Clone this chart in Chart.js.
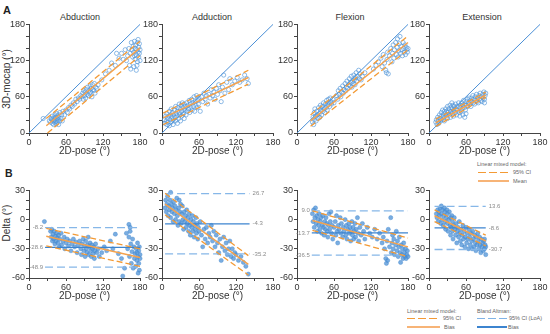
<!DOCTYPE html>
<html><head><meta charset="utf-8">
<script src="https://cdn.jsdelivr.net/npm/chart.js"></script>
<style>
body{margin:0;background:#fff;font-family:"Liberation Sans",Arial,Helvetica,sans-serif;color:#333;}
#wrap{position:relative;width:550px;height:334px;overflow:hidden;background:#fff;}
canvas{position:absolute;}
.t{position:absolute;white-space:nowrap;}
.lg{position:absolute;white-space:nowrap;font-size:5.5px;line-height:7px;color:#666;}
.ln{position:absolute;}
</style></head><body><div id="wrap">
<div class="t" style="left:3px;top:5px;font-size:11px;font-weight:bold;line-height:11px;color:#222;">A</div>
<div class="t" style="left:5px;top:168px;font-size:10.5px;font-weight:bold;line-height:11px;color:#222;">B</div>
<div id="titles"></div>
<div class="t" style="left:-53px;top:72.5px;width:120px;height:12px;line-height:12px;text-align:center;font-size:10px;transform:rotate(-90deg);">3D-mocap (°)</div>
<div class="t" style="left:-53px;top:217px;width:120px;height:12px;line-height:12px;text-align:center;font-size:10px;transform:rotate(-90deg);">Delta (°)</div>

<div class="lg" style="left:477px;top:160.5px;">Linear mixed model:</div>
<div class="ln" style="left:478px;top:171.5px;width:31px;height:1.3px;background:repeating-linear-gradient(90deg,#f39a35 0 8px,transparent 8px 11px);"></div>
<div class="lg" style="left:513px;top:168.5px;">95% CI</div>
<div class="ln" style="left:478px;top:180px;width:31px;height:2px;background:#f7b477;"></div>
<div class="lg" style="left:513px;top:177.5px;">Mean</div>

<div class="lg" style="left:407px;top:307.5px;">Linear mixed model:</div>
<div class="ln" style="left:407px;top:317.5px;width:33px;height:1.3px;background:repeating-linear-gradient(90deg,#f39a35 0 8px,transparent 8px 11px);"></div>
<div class="lg" style="left:443px;top:314.5px;">95% CI</div>
<div class="ln" style="left:407px;top:326px;width:33px;height:2.2px;background:#f7b477;"></div>
<div class="lg" style="left:444px;top:323.5px;">Bias</div>
<div class="lg" style="left:477px;top:307.5px;">Bland Altman:</div>
<div class="ln" style="left:477px;top:317.5px;width:31px;height:1.3px;background:repeating-linear-gradient(90deg,#80b3e6 0 8px,transparent 8px 11px);"></div>
<div class="lg" style="left:509px;top:314.5px;">95% CI (LoA)</div>
<div class="ln" style="left:477px;top:326px;width:30px;height:2px;background:#3c84cf;"></div>
<div class="lg" style="left:508px;top:323.5px;">Bias</div>
</div>
<script>
// ---------------- DATA ----------------
const panelTitles = ['Abduction', 'Adduction', 'Flexion', 'Extension'];
const xTickLabels = [0, 60, 120, 180];
const yTickLabelsA = [0, 60, 120, 180];
const yTickLabelsB = [-60, -30, 0, 30];
const identity = [[0, 0], [180, 180]];

// A: 3D-mocap vs 2D-pose
const abdPts = [[23,24],[33,20],[35,18],[36,24],[37,22],[38,16],[38,28],[39,20],[40,25],[40,14],[41,22],[42,18],[42,30],[43,26],[44,20],[44,15],[45,24],[45,32],[46,18],[46,28],[47,22],[48,26],[48,14],[49,30],[50,20],[50,34],[52,24],[53,30],[54,20],[55,36],[58,30],[60,38],[62,34],[64,42],[66,40],[68,46],[70,44],[72,50],[74,48],[76,56],[78,52],[80,58],[82,56],[84,62],[86,60],[87,66],[88,56],[89,70],[90,62],[91,68],[92,58],[93,72],[94,64],[95,76],[96,62],[97,70],[98,66],[99,78],[100,68],[101,74],[102,60],[103,80],[104,72],[105,70],[106,82],[107,66],[108,76],[110,74],[112,80],[118,88],[124,98],[130,104],[134,116],[140,112],[142,132],[146,124],[150,132],[153,122],[156,138],[158,120],[160,128],[162,140],[163,112],[164,132],[165,106],[166,150],[167,138],[168,126],[169,144],[170,110],[170,134],[171,152],[172,140],[172,122],[173,146],[174,130],[174,104],[175,138],[176,150],[176,118],[177,134],[178,142],[178,126],[179,148],[179,132],[180,138],[180,120],[177,155],[175,112],[171,128]];
const abdMean = [[28,12],[180,141]];
const abdUp = [[28,24],[180,152]];
const abdLo = [[30,0],[180,128]];

const addPts = [[4,22],[5,16],[6,28],[7,20],[8,14],[8,32],[9,24],[10,18],[11,28],[12,36],[12,12],[13,22],[14,30],[15,18],[15,40],[16,26],[17,34],[18,22],[18,14],[19,30],[20,38],[21,26],[22,20],[22,44],[23,32],[24,28],[25,36],[25,16],[26,42],[27,24],[28,34],[28,48],[29,30],[30,40],[30,20],[31,46],[32,36],[32,28],[33,50],[34,42],[35,32],[36,48],[36,24],[37,38],[38,44],[39,30],[40,50],[41,36],[42,46],[43,40],[44,54],[45,34],[46,48],[47,42],[48,56],[49,38],[50,50],[51,44],[52,60],[53,36],[54,52],[55,46],[56,62],[57,42],[58,54],[59,48],[60,58],[62,36],[64,60],[66,52],[68,66],[70,56],[72,62],[74,48],[76,64],[78,58],[80,72],[82,62],[84,68],[86,56],[88,74],[90,64],[92,80],[94,70],[96,52],[98,76],[100,96],[102,66],[105,84],[108,72],[110,90],[114,80],[118,86],[122,92],[126,84],[130,88],[134,96],[138,90],[140,82]];
const addMean = [[2,25],[140,92]];
const addUp = [[2,33],[140,104]];
const addLo = [[2,14],[140,81]];

const flxPts = [[25,18],[26,26],[27,14],[28,34],[28,22],[29,40],[30,28],[31,20],[32,36],[33,30],[34,24],[35,42],[36,32],[37,26],[38,46],[39,38],[40,30],[41,44],[42,36],[43,50],[44,40],[45,34],[46,48],[47,42],[48,54],[49,38],[50,46],[51,56],[52,50],[53,44],[54,58],[55,52],[56,48],[58,56],[60,50],[64,62],[66,56],[67,70],[68,64],[70,74],[71,60],[72,68],[74,78],[75,66],[76,72],[78,82],[79,70],[80,76],[81,86],[82,74],[84,80],[85,90],[86,78],[87,84],[88,94],[89,76],[90,86],[91,82],[92,96],[93,88],[94,80],[95,92],[96,100],[97,86],[98,94],[100,104],[101,90],[102,98],[104,88],[106,94],[110,100],[124,106],[128,112],[132,118],[136,124],[138,110],[140,130],[142,116],[144,104],[145,100],[146,122],[147,134],[148,98],[150,128],[152,140],[154,118],[155,132],[156,146],[157,124],[158,138],[160,150],[161,130],[162,142],[163,156],[164,126],[165,136],[166,148],[167,160],[168,132],[169,144],[170,138],[171,128],[172,150],[173,140],[174,134],[175,146],[176,130],[177,142],[178,138],[179,134],[180,140]];
const flxMean = [[22,20],[180,150]];
const flxUp = [[22,30],[180,161]];
const flxLo = [[22,11],[180,138]];

const extPts = [[11,18],[12,22],[13,14],[14,26],[15,20],[16,16],[17,30],[18,24],[19,20],[20,34],[20,28],[21,22],[22,38],[23,30],[24,26],[25,36],[25,20],[26,32],[27,40],[28,28],[29,36],[30,44],[30,24],[31,34],[32,40],[33,30],[34,46],[35,36],[35,26],[36,42],[37,50],[38,32],[38,40],[39,46],[40,28],[40,38],[41,44],[42,34],[43,48],[44,40],[45,30],[46,44],[47,38],[48,50],[49,34],[50,42],[50,28],[51,46],[52,36],[53,50],[54,40],[55,46],[55,30],[56,54],[57,42],[58,48],[58,26],[59,38],[60,52],[60,32],[61,46],[62,56],[63,44],[64,50],[65,58],[66,48],[67,54],[68,44],[69,58],[70,52],[71,62],[72,50],[73,56],[74,48],[75,60],[76,54],[77,64],[78,52],[79,58],[80,50],[81,62],[82,56],[83,66],[84,54],[85,60],[86,52],[87,64],[88,58],[89,68],[90,56],[91,62],[92,66],[90,50]];
const extMean = [[11,17],[92,63]];
const extUp = [[11,23],[92,68]];
const extLo = [[11,11],[92,59]];

// B: Delta vs 2D-pose
const abdDelta = [[25,-2],[35,-12],[36,-18],[37,-10],[38,-22],[39,-15],[40,-20],[41,-12],[42,-25],[43,-17],[44,-22],[45,-14],[46,-19],[47,-24],[48,-16],[49,-28],[50,-20],[52,-14],[53,-26],[55,-22],[57,-18],[58,-30],[60,-24],[62,-20],[64,-27],[66,-22],[68,-32],[70,-25],[72,-20],[74,-28],[76,-23],[78,-34],[80,-26],[82,-22],[84,-30],[85,-36],[86,-25],[88,-20],[89,-32],[90,-27],[91,-38],[92,-22],[93,-30],[94,-34],[95,-26],[96,-18],[97,-36],[98,-28],[99,-24],[100,-32],[101,-38],[102,-26],[103,-30],[104,-35],[105,-28],[106,-40],[107,-32],[108,-25],[110,-34],[112,-30],[114,-38],[118,-34],[122,-28],[126,-32],[132,-22],[136,-30],[140,-15],[145,-35],[150,-40],[152,-58],[155,-50],[158,-14],[160,-30],[162,-5],[162,-18],[163,-38],[164,-8],[164,-12],[165,-25],[166,-45],[167,-33],[168,-20],[169,-50],[170,-28],[171,-40],[172,-35],[173,-48],[174,-30],[175,-42],[176,-24],[177,-38],[178,-45],[178,-32],[179,-52],[180,-40],[180,-36],[179,-28],[177,-55],[175,-34]];
const abdBias = [[28,-17],[180,-39]];
const abdBiasUp = [[28,-9],[180,-30]];
const abdBiasLo = [[28,-27],[180,-48]];
const abdLoa = [-8.2, -28.6, -48.9];
const abdLoaX = [26, 180];

const addDelta = [[5,12],[6,20],[7,8],[8,16],[9,24],[10,4],[11,14],[12,10],[13,20],[14,28],[14,2],[15,16],[16,8],[17,12],[18,-2],[19,18],[20,6],[21,14],[22,0],[23,10],[24,22],[25,4],[26,-6],[27,12],[28,20],[28,-2],[29,8],[30,16],[31,-4],[32,6],[33,14],[34,0],[35,-10],[36,8],[37,-2],[38,4],[39,-8],[40,10],[41,-4],[42,2],[43,-12],[44,6],[45,-6],[46,-16],[47,0],[48,-8],[49,4],[50,-12],[51,-2],[52,-18],[53,-6],[54,-10],[55,2],[56,-14],[57,-4],[58,-20],[59,-8],[60,-12],[62,-2],[64,-16],[66,-28],[68,-10],[70,-20],[72,-8],[74,-24],[76,-14],[78,-18],[80,-6],[82,-22],[84,-12],[86,-28],[88,-16],[90,-24],[92,-34],[94,-20],[96,-42],[98,-28],[100,-18],[102,-32],[104,-24],[106,-36],[108,-30],[110,-22],[112,-38],[114,-30],[116,-40],[118,-34],[120,-36],[124,-42],[128,-38],[132,-44],[136,-48],[140,-56]];
const addBias = [[5,16],[140,-46]];
const addBiasUp = [[5,27],[140,-37]];
const addBiasLo = [[5,5],[140,-57]];
const addLoa = [26.7, -4.3, -35.2];
const addLoaX = [5, 142];

const flxDelta = [[25,6],[26,-2],[27,10],[28,-8],[29,2],[30,12],[31,-4],[32,4],[33,-12],[34,0],[35,-6],[36,6],[37,-10],[38,-2],[39,2],[40,-14],[41,-6],[42,4],[43,-8],[44,-16],[45,-2],[46,-10],[47,2],[48,-4],[49,-12],[50,-18],[51,-6],[52,6],[53,-10],[54,-2],[55,8],[56,-14],[57,-6],[58,-20],[60,-8],[62,-2],[63,-16],[64,4],[65,-12],[66,-24],[67,-6],[68,-10],[70,2],[71,-14],[72,-4],[74,-18],[75,-8],[76,-12],[78,0],[79,-16],[80,-6],[81,-20],[82,-10],[84,-4],[85,-14],[86,-8],[87,-22],[88,-12],[89,-2],[90,-16],[91,-8],[92,-20],[93,-12],[94,-4],[95,-18],[96,-10],[98,2],[99,-14],[100,-22],[102,-8],[104,-16],[106,-4],[108,-12],[110,-20],[114,-8],[118,-14],[122,-18],[126,-10],[130,-20],[134,-14],[138,-24],[140,-18],[142,-30],[144,-40],[145,-45],[146,-22],[147,-42],[148,-10],[150,-28],[152,2],[153,-34],[154,-24],[155,-16],[156,-30],[157,-20],[158,-36],[160,-26],[161,-12],[162,-32],[163,-22],[164,-38],[165,-28],[166,-18],[167,-34],[168,-44],[169,-26],[170,-36],[171,-30],[172,-40],[173,-24],[174,-34],[175,-38],[176,-30],[177,-40],[178,-36],[179,-32],[180,-38]];
const flxBias = [[25,-1],[180,-28]];
const flxBiasUp = [[25,9],[180,-19]];
const flxBiasLo = [[25,-11],[180,-38]];
const flxLoa = [9.0, -13.7, -36.5];
const flxLoaX = [24, 180];

const extDelta = [[12,6],[13,2],[14,10],[15,-2],[16,8],[17,4],[18,12],[19,-4],[20,6],[20,14],[21,0],[22,10],[23,-6],[24,4],[25,12],[26,-2],[26,8],[27,-10],[28,2],[29,10],[30,-4],[30,6],[31,-12],[32,0],[33,8],[34,-6],[35,2],[35,-16],[36,-8],[37,4],[38,-2],[38,-12],[39,-20],[40,-6],[41,2],[42,-10],[43,-16],[44,-4],[45,-24],[46,-12],[47,-8],[48,-18],[49,-2],[50,-14],[51,-22],[52,-10],[53,-26],[54,-16],[55,-6],[56,-20],[57,-12],[58,-28],[59,-18],[60,-8],[61,-24],[62,-14],[63,-20],[64,-30],[65,-10],[66,-18],[67,-26],[68,-14],[69,-22],[70,-30],[71,-12],[72,-20],[73,-28],[74,-16],[75,-24],[76,-32],[77,-18],[78,-26],[79,-14],[80,-22],[81,-30],[82,-18],[83,-26],[84,-34],[85,-20],[86,-28],[87,-24],[88,-32],[89,-22],[90,-30],[91,-26],[92,-36],[90,-20],[92,-28]];
const extBias = [[9,4],[92,-22]];
const extBiasUp = [[9,10],[92,-16]];
const extBiasLo = [[9,-2],[92,-27]];
const extLoa = [13.6, -8.6, -30.7];
const extLoaX = [9, 92];

// ---------------- RENDER ----------------
Chart.defaults.font.family = '"Liberation Sans", Arial, Helvetica, sans-serif';
Chart.defaults.font.size = 9;
Chart.defaults.color = '#333';

const wrap = document.getElementById('wrap');
const GEOM = {left: [29, 162, 297, 429], w: 111, aTop: 24, aH: 109, bTop: 190, bH: 88};
const COL = {ring: 'rgba(82,150,216,0.72)', fill: 'rgba(78,145,214,0.75)', ident: '#4a8fd6',
  orD: '#f39a35', orS: '#f5a24c', loa: '#86b7e8', bias: '#3c84cf'};

const annotPlugin = {
  id: 'annot',
  afterDatasetsDraw(chart, args, opts) {
    const labels = opts.labels || [];
    if (!labels.length) return;
    const ctx = chart.ctx, xs = chart.scales.x, ys = chart.scales.y;
    ctx.save();
    ctx.font = '6px "Liberation Sans", Arial, sans-serif';
    ctx.fillStyle = '#8a8a8a';
    ctx.textBaseline = 'middle';
    for (const l of labels) {
      const left = l.side === 'left';
      ctx.textAlign = left ? 'right' : 'left';
      ctx.fillText(l.v.toFixed(1), xs.getPixelForValue(l.x) + (left ? -2 : 3), ys.getPixelForValue(l.v));
    }
    ctx.restore();
  }
};

function P(a) { return a.map(p => ({x: p[0], y: p[1]})); }
function line(a, color, w, dash, order) {
  return {data: P(a), showLine: true, borderColor: color, borderWidth: w, borderDash: dash || [],
    pointRadius: 0, pointHoverRadius: 0, fill: false, tension: 0, order: order, clip: false};
}
function hline(xr, v, color, w, dash, order) { return line([[xr[0], v], [xr[1], v]], color, w, dash, order); }
function ring(a) {
  return {data: P(a), pointRadius: 2.1, pointBorderWidth: 0.9, pointBackgroundColor: 'rgba(255,255,255,0)',
    pointBorderColor: COL.ring, showLine: false, order: 5, clip: false};
}
function dots(a) {
  return {data: P(a), pointRadius: 2.1, pointBorderWidth: 0.5, pointBackgroundColor: COL.fill,
    pointBorderColor: 'rgba(66,135,208,0.8)', showLine: false, order: 5, clip: false};
}

function makeChart(px, py, pw, ph, yMin, yMax, yStep, yLabs, datasets, annot) {
  const yw = 29, pt = 6, pr = 12, xh = 25;
  const c = document.createElement('canvas');
  c.width = yw + pw + pr; c.height = pt + ph + xh;
  c.style.left = (px - yw) + 'px'; c.style.top = (py - pt) + 'px';
  wrap.appendChild(c);
  new Chart(c, {
    type: 'scatter',
    data: {datasets: datasets},
    plugins: [annotPlugin],
    options: {
      responsive: false, animation: false, devicePixelRatio: 1,
      layout: {padding: {left: 0, top: pt, right: pr, bottom: 0}},
      plugins: {legend: {display: false}, tooltip: {enabled: false}, annot: {labels: annot || []}},
      scales: {
        x: {type: 'linear', min: 0, max: 180, afterFit: s => { s.height = xh; },
          ticks: {stepSize: 30, autoSkip: false, maxRotation: 0, minRotation: 0, padding: 1, color: '#333', font: {size: 9},
            callback: v => xTickLabels.includes(v) ? String(v) : ''},
          grid: {drawOnChartArea: false, drawTicks: true, tickLength: 3, tickColor: '#444', tickWidth: 1},
          border: {display: true, color: '#444', width: 1},
          title: {display: true, text: '2D-pose (°)', color: '#333', font: {size: 10}, padding: {top: 0, bottom: 1}}},
        y: {type: 'linear', min: yMin, max: yMax, afterFit: s => { s.width = yw; },
          ticks: {stepSize: yStep, autoSkip: false, padding: 1, color: '#333', font: {size: 9},
            callback: v => yLabs.includes(v) ? String(v) : ''},
          grid: {drawOnChartArea: false, drawTicks: true, tickLength: 3, tickColor: '#444', tickWidth: 1},
          border: {display: true, color: '#444', width: 1}}
      }
    }
  });
}

// titles
const titleCx = [80, 212, 350, 482];
const tDiv = document.getElementById('titles');
panelTitles.forEach((t, i) => {
  const d = document.createElement('div');
  d.className = 't';
  d.style.cssText = `left:${titleCx[i] - 50}px;top:11.5px;width:100px;text-align:center;font-size:9px;line-height:10px;color:#333;`;
  d.textContent = t;
  tDiv.appendChild(d);
});

const A = [
  [abdPts, abdMean, abdUp, abdLo],
  [addPts, addMean, addUp, addLo],
  [flxPts, flxMean, flxUp, flxLo],
  [extPts, extMean, extUp, extLo]
];
A.forEach((p, i) => {
  const ds = [
    line(p[1], COL.orS, 1.5, [], 1),
    line(p[2], COL.orD, 1.3, [6, 3], 1),
    line(p[3], COL.orD, 1.3, [6, 3], 1),
    ring(p[0]),
    line(identity, COL.ident, 1, [], 8)
  ];
  makeChart(GEOM.left[i], GEOM.aTop, GEOM.w, GEOM.aH, 0, 180, 20, yTickLabelsA, ds);
});

const B = [
  [abdDelta, abdBias, abdBiasUp, abdBiasLo, abdLoa, abdLoaX, 'left'],
  [addDelta, addBias, addBiasUp, addBiasLo, addLoa, addLoaX, 'right'],
  [flxDelta, flxBias, flxBiasUp, flxBiasLo, flxLoa, flxLoaX, 'left'],
  [extDelta, extBias, extBiasUp, extBiasLo, extLoa, extLoaX, 'right']
];
B.forEach((p, i) => {
  const loa = p[4], lx = p[5], side = p[6];
  const ds = [
    line(p[1], COL.orS, 1.5, [], 1),
    line(p[2], COL.orD, 1.3, [6, 3], 1),
    line(p[3], COL.orD, 1.3, [6, 3], 1),
    hline(lx, loa[0], COL.loa, 1.3, [8, 4], 3),
    hline(lx, loa[1], COL.bias, 1.3, [], 3),
    hline(lx, loa[2], COL.loa, 1.3, [8, 4], 3),
    dots(p[0])
  ];
  const ann = loa.map(v => ({v: v, x: side === 'left' ? lx[0] : lx[1], side: side}));
  makeChart(GEOM.left[i], GEOM.bTop, GEOM.w, GEOM.bH, -60, 30, 10, yTickLabelsB, ds, ann);
});
</script>
</body></html>
